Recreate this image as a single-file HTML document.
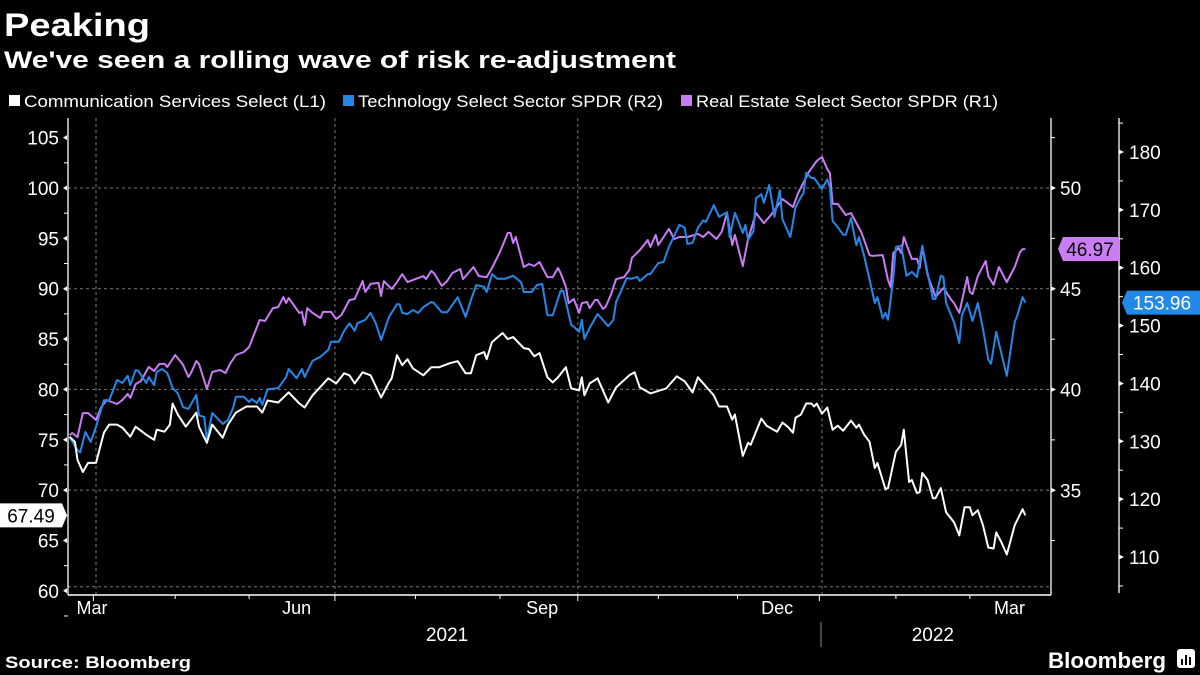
<!DOCTYPE html>
<html><head><meta charset="utf-8"><style>
html,body{margin:0;padding:0;background:#000;width:1200px;height:675px;overflow:hidden}
svg{display:block}
text{font-family:"Liberation Sans",sans-serif;fill:#fff}
</style></head><body>
<svg id="chart" width="1200" height="675" viewBox="0 0 1200 675" xmlns="http://www.w3.org/2000/svg">
<rect width="1200" height="675" fill="#000"/>
<text x="4" y="36" font-size="32" font-weight="bold" textLength="146" lengthAdjust="spacingAndGlyphs">Peaking</text>
<text x="4" y="68" font-size="24" font-weight="bold" textLength="672" lengthAdjust="spacingAndGlyphs">We've seen a rolling wave of risk re-adjustment</text>
<g>
<rect x="9" y="95" width="11" height="11" fill="#fff"/>
<text x="24" y="107" font-size="17" textLength="302" lengthAdjust="spacingAndGlyphs">Communication Services Select (L1)</text>
<rect x="343" y="95" width="11" height="11" fill="#2389e8"/>
<text x="358" y="107" font-size="17" textLength="305" lengthAdjust="spacingAndGlyphs">Technology Select Sector SPDR (R2)</text>
<rect x="681" y="95" width="11" height="11" fill="#c97cf4"/>
<text x="696" y="107" font-size="17" textLength="302" lengthAdjust="spacingAndGlyphs">Real Estate Select Sector SPDR (R1)</text>
</g>
<g id="grid"></g>
<g id="axes"></g>
<g id="series"></g>
<g id="callouts"></g>
<text x="5" y="668" font-size="17" font-weight="bold" textLength="186" lengthAdjust="spacingAndGlyphs">Source: Bloomberg</text>
<text x="1048" y="668" font-size="22" font-weight="bold" textLength="118" lengthAdjust="spacingAndGlyphs">Bloomberg</text>
<g>
<rect x="1177" y="649" width="18" height="19" rx="3" fill="#fff"/>
<rect x="1181" y="659" width="2" height="6" fill="#000"/><rect x="1185" y="655" width="2" height="10" fill="#000"/><rect x="1189" y="657" width="2" height="8" fill="#000"/>
</g>
</svg>
<script>
// x-axis: days since 2021-03-01
const whiteDays=[-10,-8,-7,-5,-3,0,3,5,8,10,13,15,19,22,23,26,28,29,31,34,38,39,42,44,48,50,53,57,61,63,65,69,73,77,79,82,88,91,94,96,98,101,104,108,111,112,114,116,118,120,124,127,130,134,137,140,142,144,147,148,150,154,156,158,162,164,166,168,171,173,175,178,180,183,184,185,187,190,194,197,202,204,206,210,216,220,223,226,228,234,236,239,241,242,245,247,248,252,254,258,260,262,264,265,267,269,271,272,273,275,277,279,281,283,286,288,289,291,293,295,296,299,300,303,305,306,308,309,311,312,313,315,317,318,320,322,325,327,329,331,332,334,336,338,340,341,343,345,348,351,352];
const whiteValues=[75.3,74.8,73.0,71.8,72.7,72.7,75.7,76.5,76.5,76.2,75.3,76.3,75.5,75.0,76.0,75.8,76.5,78.6,77.5,76.3,77.7,76.3,74.7,76.5,75.2,76.5,77.7,78.3,78.3,77.7,78.9,78.7,79.7,78.6,78.2,79.4,81.1,80.6,81.6,81.4,80.6,81.7,81.4,79.2,80.7,81.1,83.4,82.4,83.0,82.1,81.4,82.2,82.2,82.6,82.8,81.6,81.6,83.4,83.7,83.0,84.7,85.6,85.0,85.2,84.1,84.0,83.3,83.6,81.2,80.7,81.2,82.2,80.1,79.9,81.2,79.4,80.6,81.1,78.7,80.2,81.4,81.7,80.2,79.6,80.1,81.3,80.8,79.7,81.2,79.4,78.3,78.3,77.0,77.5,73.4,74.7,74.5,77.1,76.4,75.8,76.7,76.3,75.7,77.2,77.5,78.6,78.6,78.3,78.6,77.6,78.2,76.0,76.4,75.9,76.9,76.2,76.5,75.5,74.8,72.2,72.7,70.1,70.2,73.8,74.5,76.0,70.8,71.0,69.7,69.8,71.7,71.0,69.2,69.2,70.2,67.8,66.8,65.5,68.3,68.3,67.5,68.0,66.5,64.3,64.2,65.8,64.8,63.6,66.5,68.1,67.49];
const blueDays=[-10,-7,-6,-4,-2,0,3,5,8,10,12,13,15,16,19,20,22,23,25,27,29,31,33,35,38,39,41,42,44,48,50,52,53,56,58,59,61,62,63,65,69,72,73,76,78,79,82,85,88,89,92,94,96,98,99,102,104,106,108,111,114,115,116,118,120,122,124,127,128,131,133,137,140,142,144,147,148,150,152,155,158,161,162,165,167,169,171,173,176,177,180,181,183,184,185,187,190,194,196,197,199,201,203,205,206,209,210,213,215,217,221,223,224,226,228,230,231,234,236,239,240,242,245,246,247,249,250,252,253,255,257,259,260,263,265,267,268,269,271,272,275,277,278,279,281,283,284,286,288,289,291,295,296,298,299,300,302,303,305,307,309,311,313,315,317,318,320,321,322,325,327,328,330,332,334,336,338,339,341,345,348,349,351,352];
const blueValues=[130.7,128.5,128.1,131.6,129.9,132.5,137.1,137.1,140.6,140.1,141.3,139.7,142.3,142.2,140.1,141.1,139.7,142.0,142.5,141.8,139.2,138.3,135.9,135.6,138.0,134.5,134.2,130.2,134.9,133.0,133.7,135.9,137.7,137.7,136.8,137.3,136.6,137.5,136.3,139.0,139.2,141.1,142.5,140.9,142.5,141.1,143.9,144.6,145.8,147.2,147.2,149.1,150.4,149.1,150.4,151.0,152.2,150.4,147.5,151.5,153.7,153.7,152.2,152.0,152.7,152.2,153.2,154.1,153.9,152.3,152.3,154.9,151.5,154.4,157.0,156.7,155.8,158.9,158.1,158.1,158.6,157.5,155.8,155.8,157.0,157.2,151.8,151.8,156.0,156.0,150.1,149.8,148.9,151.0,147.7,149.6,152.0,149.9,151.0,154.1,156.1,158.2,158.1,158.4,157.7,158.9,158.9,160.8,161.0,163.6,167.4,166.9,164.1,164.3,166.9,168.2,167.9,170.8,168.8,169.6,165.3,169.5,166.0,167.4,164.8,166.3,172.0,172.7,171.2,174.3,168.8,173.4,168.4,165.3,170.5,172.2,172.9,176.4,175.5,175.5,173.6,175.3,173.8,168.1,167.0,165.7,165.7,168.6,163.9,165.3,162.0,153.9,154.9,151.3,152.2,151.0,158.1,163.6,163.8,158.6,159.3,158.4,163.8,159.1,154.6,154.6,158.6,158.4,153.9,150.6,147.0,151.8,153.9,150.8,153.9,149.4,144.1,143.4,148.9,141.3,150.6,151.8,154.9,153.96];
const purpleDays=[-10,-9,-7,-5,-3,0,2,4,6,8,10,12,13,15,17,20,22,24,26,27,30,33,35,36,38,39,42,44,47,49,51,53,56,58,62,64,67,69,71,72,73,77,78,79,80,82,85,86,89,91,93,96,98,101,102,104,107,108,109,112,114,116,118,121,124,125,127,128,131,133,135,138,139,143,145,148,150,153,156,157,158,159,162,164,166,168,171,173,175,176,178,179,181,183,184,186,187,189,190,192,193,195,197,200,202,203,206,209,210,212,213,217,219,221,224,228,230,232,235,237,239,241,242,245,247,250,253,256,260,264,266,270,273,275,277,278,279,281,284,286,287,290,293,294,298,300,301,302,304,305,306,309,311,312,313,315,318,321,324,325,327,330,331,332,334,337,338,340,342,345,348,350,351,352];
const purpleValues=[37.74,37.84,37.64,38.83,38.83,38.49,39.13,39.48,39.38,39.28,39.48,39.78,39.58,40.27,40.42,41.12,40.92,41.27,41.27,41.12,41.71,41.22,40.62,40.82,41.41,41.27,40.02,40.87,40.97,40.82,41.32,41.71,41.86,42.11,43.45,43.40,44.04,44.09,44.59,44.29,44.54,43.80,43.85,43.20,44.04,43.80,43.55,43.85,43.85,43.50,43.70,44.44,44.49,45.38,44.84,45.24,45.29,44.64,45.38,44.99,45.33,45.73,45.33,45.48,45.63,45.48,45.88,45.78,45.14,45.38,45.78,45.98,45.48,46.08,45.63,45.58,46.03,46.82,47.77,47.77,47.27,47.57,46.08,46.23,46.13,46.33,45.58,45.58,46.03,45.78,45.09,44.29,44.49,43.80,44.29,44.34,44.04,44.44,44.44,44.00,44.09,44.69,45.48,45.58,45.93,46.53,46.92,47.42,47.07,47.67,47.17,47.97,47.47,47.57,47.57,47.72,47.57,47.82,47.47,47.82,48.76,47.17,47.67,46.13,47.47,48.76,48.26,48.71,49.45,49.06,49.75,50.79,51.34,51.54,50.94,50.74,49.21,49.21,48.66,48.76,48.51,47.77,46.67,46.63,46.67,45.43,45.09,46.77,47.02,46.77,47.57,46.48,46.48,46.03,47.07,45.68,44.59,45.04,44.44,44.29,43.80,45.58,44.84,44.74,45.63,46.38,45.63,45.19,46.08,45.33,46.08,46.82,46.97,46.97];
const leftTicks=[105,100,95,90,85,80,75,70,65,60];
const r1Ticks=[50,45,40,35];
const r2Ticks=[180,170,160,150,140,130,120,110];
const monthLabels=["Mar","Jun","Sep","Dec","Mar"];
const yearLabels=["2021","2022"];

const NS="http://www.w3.org/2000/svg";
const X0=96, DAYPX=2.64, TOP=118, BOT=595, LEFTX=68, R1X=1051, R2X=1119;
function xs(d){return X0+d*DAYPX;}
function yL(v){return 188+(100-v)*10.07;}
function yR1(v){return 188+(50-v)*20.15;}
function yR2(v){return 152+(180-v)*5.786;}
function mk(tag,attrs,parent){const e=document.createElementNS(NS,tag);for(const k in attrs)e.setAttribute(k,attrs[k]);parent.appendChild(e);return e;}
const grid=document.getElementById('grid'),axes=document.getElementById('axes'),series=document.getElementById('series'),callouts=document.getElementById('callouts');

[100,90,80,70,60.4].forEach(v=>{const l=mk('line',{x1:LEFTX,x2:R1X,y1:yL(v),y2:yL(v),stroke:'#777','stroke-width':1,'stroke-dasharray':'3,3'},grid);

});
[0,90.5,182.5,275].forEach(d=>{const l=mk('line',{x1:xs(d),x2:xs(d),y1:TOP,y2:BOT,stroke:'#777','stroke-width':1,'stroke-dasharray':'3,3'},grid);

});

mk('line',{x1:LEFTX,x2:LEFTX,y1:TOP,y2:BOT,stroke:'#fff','stroke-width':1.3},axes);
mk('line',{x1:LEFTX,x2:R1X,y1:BOT,y2:BOT,stroke:'#fff','stroke-width':1.5},axes);
mk('line',{x1:R1X,x2:R1X,y1:TOP,y2:BOT,stroke:'#fff','stroke-width':1.3},axes);
mk('line',{x1:R2X,x2:R2X,y1:TOP,y2:593,stroke:'#fff','stroke-width':1.3},axes);

leftTicks.forEach(v=>{const y=yL(v);
const t=mk('text',{x:59,y:y+7,'font-size':19,'text-anchor':'end'},axes);t.textContent=v;


mk('path',{d:`M${LEFTX-5} ${y} L${LEFTX-1} ${y-2.5} L${LEFTX-1} ${y+2.5}Z`,fill:'#fff'},axes);
mk('line',{x1:LEFTX-4,x2:LEFTX,y1:yL(v-2.5),y2:yL(v-2.5),stroke:'#fff'},axes);});
r1Ticks.forEach(v=>{const y=yR1(v);
const t=mk('text',{x:1060,y:y+7,'font-size':19},axes);t.textContent=v;


mk('path',{d:`M${R1X} ${y-2.5} L${R1X+5} ${y} L${R1X} ${y+2.5}Z`,fill:'#fff'},axes);
mk('line',{x1:R1X,x2:R1X+4,y1:yR1(v+2.5),y2:yR1(v+2.5),stroke:'#fff'},axes);});
mk('line',{x1:R1X,x2:R1X+4,y1:yR1(32.5),y2:yR1(32.5),stroke:'#fff'},axes);
r2Ticks.forEach(v=>{const y=yR2(v);
const t=mk('text',{x:1129,y:y+7,'font-size':19},axes);t.textContent=v;


mk('path',{d:`M${R2X} ${y-2.5} L${R2X+5} ${y} L${R2X} ${y+2.5}Z`,fill:'#fff'},axes);
mk('line',{x1:R2X,x2:R2X+4,y1:yR2(v+5),y2:yR2(v+5),stroke:'#fff'},axes);});
mk('line',{x1:R2X,x2:R2X+4,y1:yR2(105),y2:yR2(105),stroke:'#fff'},axes);

[-1,90.5,182.5,274].forEach(d=>mk('line',{x1:xs(d),x2:xs(d),y1:BOT,y2:BOT+6,stroke:'#fff'},axes));
[30,58,121,153,213,243,303,331].forEach(d=>mk('line',{x1:xs(d),x2:xs(d),y1:BOT,y2:BOT+4,stroke:'#fff'},axes));
const monthX=[-1.5,76,169,258,346];
monthLabels.forEach((m,i)=>{const t=mk('text',{x:xs(monthX[i]),y:614,'font-size':18,'text-anchor':'middle'},axes);t.textContent=m;

});
const yearX=[133,317];
yearLabels.forEach((m,i)=>{const t=mk('text',{x:xs(yearX[i]),y:641,'font-size':19,'text-anchor':'middle'},axes);t.textContent=m;

});
mk('line',{x1:821,x2:821,y1:622,y2:647,stroke:'#888'},axes);

function draw(days,vals,yf,color,name){
  const d=days.map((dd,i)=>(i?'L':'M')+xs(dd).toFixed(1)+' '+yf(vals[i]).toFixed(1)).join(' ');
  const p=mk('path',{d:d,fill:'none',stroke:color,'stroke-width':2,'stroke-linejoin':'round'},series);
  
  
}
draw(purpleDays,purpleValues,yR1,'#c97cf4','real-estate-line');
draw(blueDays,blueValues,yR2,'#2389e8','technology-line');
draw(whiteDays,whiteValues,yL,'#ffffff','communication-line');

function callout(val,y,kind){
  let g=mk('g',{},callouts);
  if(kind==='L'){
    mk('path',{d:`M0 ${y-12} L62 ${y-12} L67 ${y} L62 ${y+12} L0 ${y+12}Z`,fill:'#fff'},g);
    const t=mk('text',{x:31,y:y+7,'font-size':19,'text-anchor':'middle'},g);t.textContent=val.toFixed(2);t.style.fill='#000';
    
  } else if(kind==='R1'){
    mk('path',{d:`M1058 ${y} L1063 ${y-12} L1119 ${y-12} L1119 ${y+12} L1063 ${y+12}Z`,fill:'#c97cf4'},g);
    const t=mk('text',{x:1090,y:y+7,'font-size':19,'text-anchor':'middle'},g);t.textContent=val.toFixed(2);t.style.fill='#000';
    
  } else {
    mk('path',{d:`M1122 ${y} L1127 ${y-12} L1200 ${y-12} L1200 ${y+12} L1127 ${y+12}Z`,fill:'#2389e8'},g);
    const t=mk('text',{x:1162,y:y+7,'font-size':19,'text-anchor':'middle'},g);t.textContent=val.toFixed(2);
    
  }
  
}
callout(whiteValues[whiteValues.length-1],yL(whiteValues[whiteValues.length-1]),'L');
callout(purpleValues[purpleValues.length-1],yR1(purpleValues[purpleValues.length-1]),'R1');
callout(blueValues[blueValues.length-1],yR2(blueValues[blueValues.length-1]),'R2');
</script>
</body></html>
